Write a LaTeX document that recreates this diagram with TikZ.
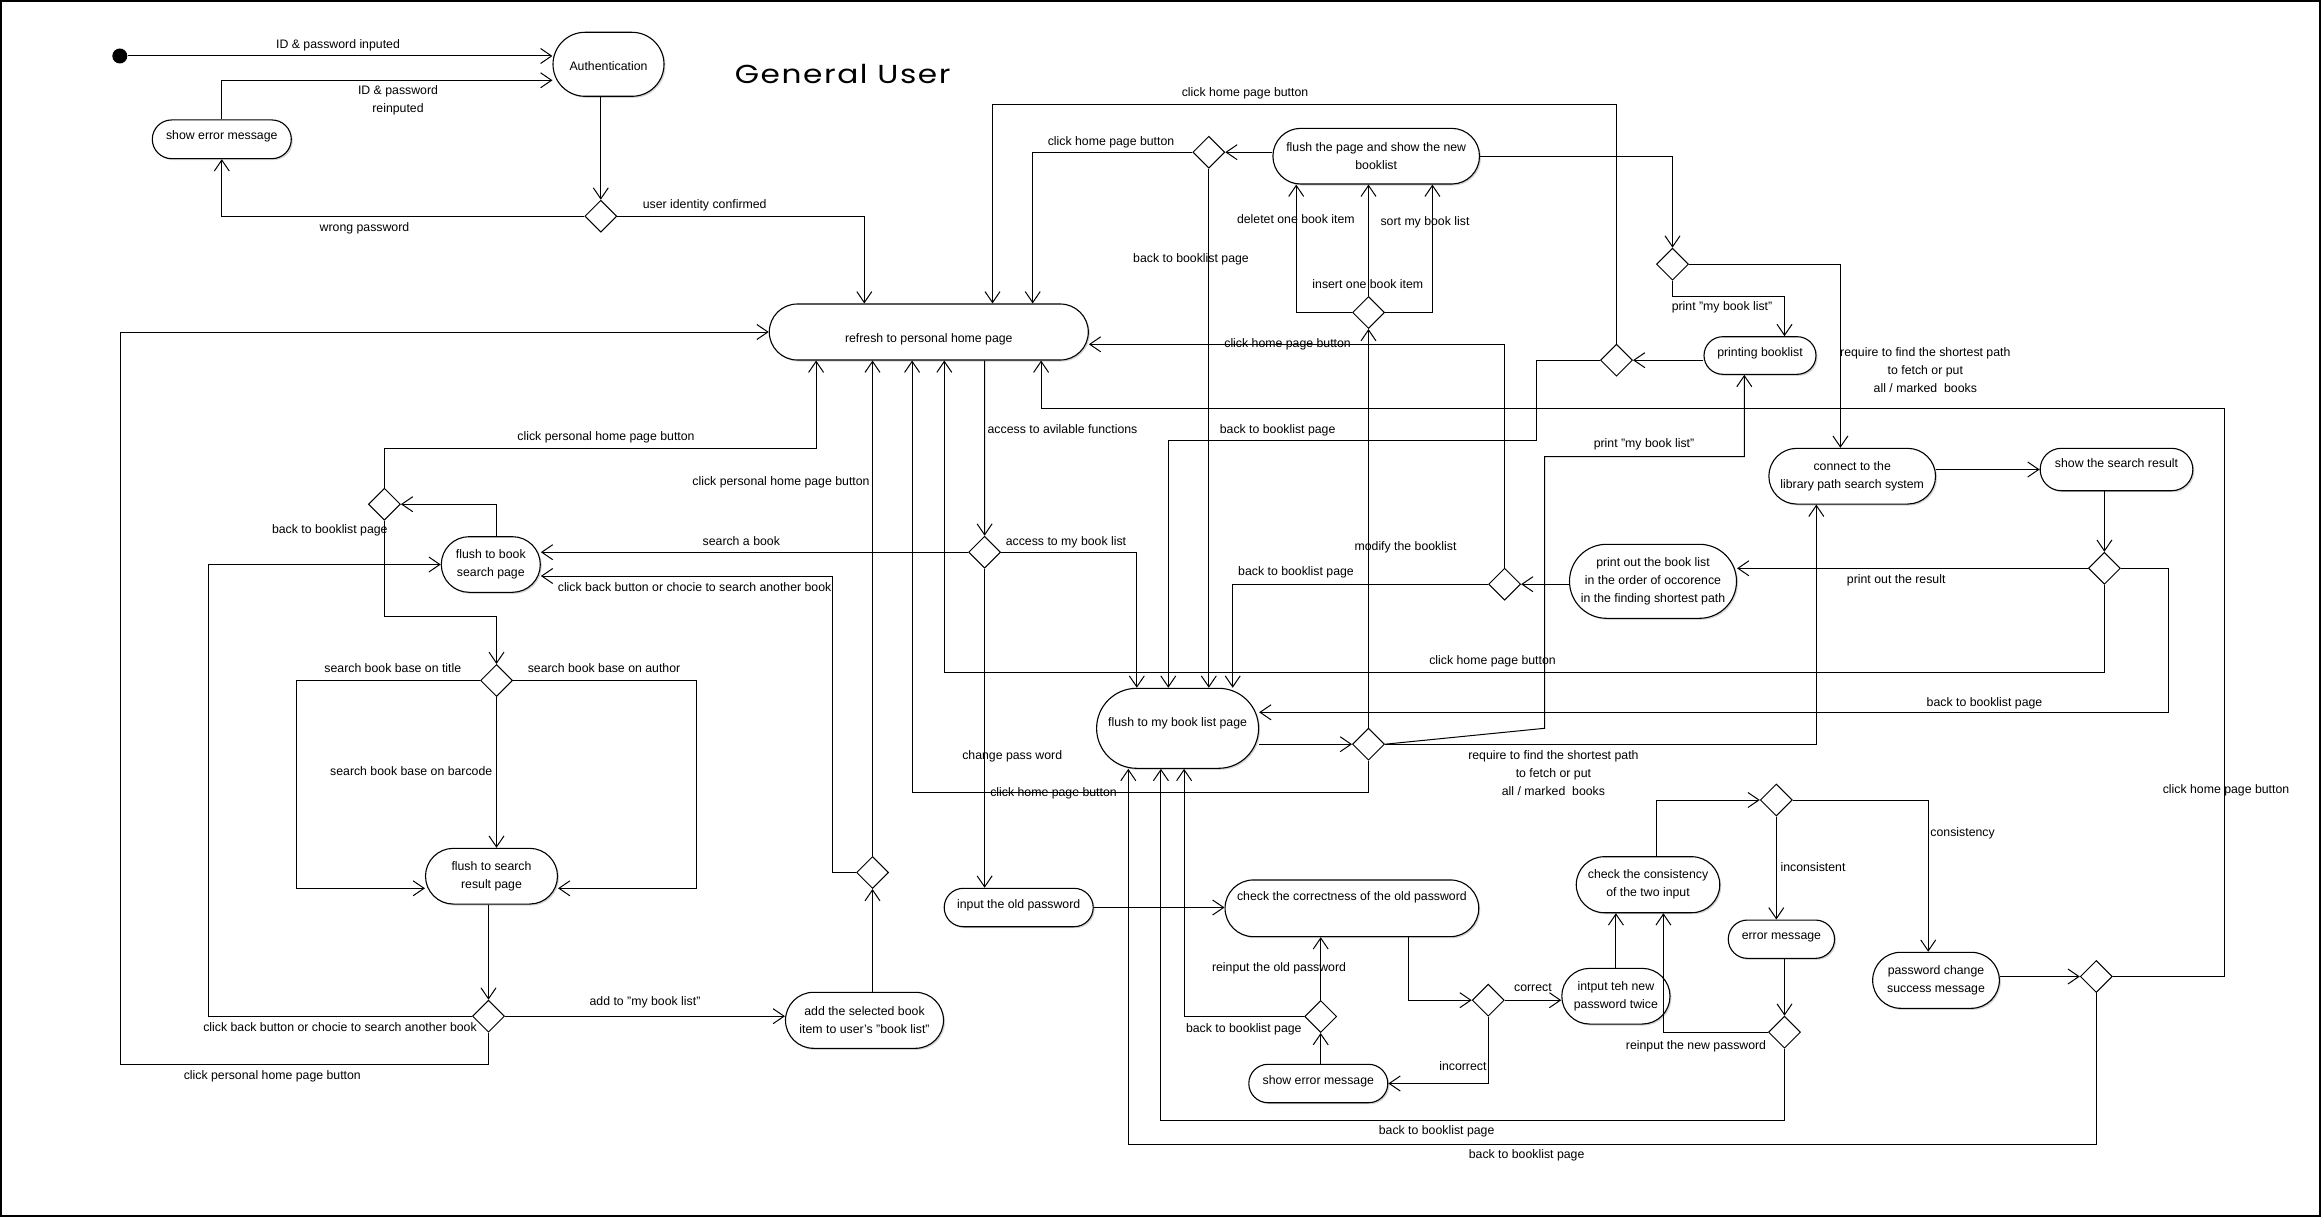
\documentclass[tikz,border=0pt]{standalone}
\usepackage{fontspec}
\setmainfont{Liberation Sans}
\newfontfamily\titlefont{Poppins}[FakeStretch=1.2, LetterSpace=6]
\usetikzlibrary{arrows.meta,shapes.geometric,shadows}

\begin{document}
\begin{tikzpicture}[x=1pt, y=-1pt,
  every node/.style={font=\fontsize{12.3}{18.2}\selectfont},
  act/.style 2 args={draw, fill=white, line width=1.1pt, align=center, inner sep=0pt,
    minimum width=#1pt, minimum height=#2pt, rounded corners=#2pt/2,
    drop shadow={shadow xshift=1.5pt, shadow yshift=-1.5pt, opacity=0.35}},
  one/.style={text height=9pt, text depth=7.8pt},
  dec/.style={draw, fill=white, diamond, line width=1pt, inner sep=0pt,
    minimum width=32pt, minimum height=32pt},
  start/.style={circle, fill=black, inner sep=0pt, minimum size=15pt},
  flow/.style={line width=1pt, -{Straight Barb[length=11pt, width=15pt]}},
  lbl/.style={inner sep=0pt, text height=9pt, text depth=2.6pt},
  lbls/.style={inner sep=0pt, align=center},
]
\useasboundingbox (0,0) rectangle (2321,1217);
\draw[line width=2pt] (1,1) rectangle (2320,1216);

% title
\node[font=\titlefont\fontsize{26}{30}\selectfont] (title) at (842.7,74) {General User};

% activities and decisions
\node[start] (init) at (119.8,56) {};
\node[act={111}{64}, text height=14.2pt, text depth=2.6pt] (auth) at (608.5,64.3) {Authentication};
\node[act={139}{38.7}, one] (err1) at (221.8,139.3) {show error message};
\node[dec] (d1) at (600.8,216.2) {};
\node[act={319}{56}, text height=22.8pt, text depth=2.6pt] (home) at (928.8,332) {refresh to personal home page};
\node[dec] (dfp) at (1208.8,152.2) {};
\node[act={206.6}{55.7}] (fp) at (1376.2,156.2) {flush the page and show the new\\booklist};
\node[dec] (dmod) at (1368.5,312.5) {};
\node[dec] (dprint) at (1672.5,264.2) {};
\node[dec] (dpb) at (1616.5,360.2) {};
\node[act={112}{37.6}, one] (pb) at (1760,355.5) {printing booklist};
\node[act={166.7}{55.7}] (conn) at (1852.2,476.2) {connect to the\\library path search system};
\node[act={152.7}{42.4}, text height=9pt, text depth=12.6pt] (sres) at (2116.5,469.5) {show the search result};
\node[dec] (dres) at (2104.4,568.3) {};
\node[act={167}{74}] (pout) at (1653,581.3) {print out the book list\\in the order of occorence\\in the finding shortest path};
\node[dec] (dpout) at (1504.6,584.2) {};
\node[dec] (dacc) at (984.6,552.2) {};
\node[act={99}{55.6}] (fbs) at (490.8,564.5) {flush to book\\search page};
\node[dec] (dbs) at (384.4,504.2) {};
\node[dec] (dsearch) at (496.5,680.5) {};
\node[act={132}{55.7}] (fsr) at (491.5,876.2) {flush to search\\result page};
\node[dec] (dsr) at (488.5,1016.2) {};
\node[act={158}{56}] (add) at (864.5,1020.3) {add the selected book\\item to user's "book list"};
\node[dec] (dadd) at (872.5,872.5) {};
\node[act={162}{80}, text height=9pt, text depth=13.4pt] (fbl) at (1177.6,728.3) {flush to my book list page};
\node[dec] (dfbl) at (1368.5,744.2) {};
\node[act={149}{38.4}, one] (iold) at (1018.7,907.5) {input the old password};
\node[act={253.7}{56.7}, text height=9pt, text depth=25.4pt] (chk) at (1351.9,908.3) {check the correctness of the old password};
\node[dec] (dchk) at (1488.2,1000.2) {};
\node[act={139}{38.4}, one] (err2) at (1318.3,1083.5) {show error message};
\node[dec] (dold) at (1320.7,1016.5) {};
\node[act={108.2}{55.7}] (inew) at (1615.9,996.2) {intput teh new\\password twice};
\node[act={143.5}{56}] (cons) at (1648,884.7) {check the consistency\\of the two input};
\node[dec] (dcons) at (1776.3,800) {};
\node[act={106.3}{38.3}, one] (emsg) at (1781.4,939.2) {error message};
\node[dec] (dnew) at (1784.5,1032.2) {};
\node[act={126.7}{56}] (succ) at (1936,980.3) {password change\\success message};
\node[dec] (dsucc) at (2096.3,976.5) {};

% login
\draw[flow] (init) -- (init -| auth.west);
\draw[flow] (err1.north) |- (auth.west |- 0,80.3);
\draw[flow] (d1.north |- auth.south) -- (d1.north);
\draw[flow] (d1.west) -| (err1.south);
\draw[flow] (d1.east) -| (864.3,0 |- home.north);

% book search
\draw[flow] (dsr.south) |- (120.5,1064.3) |- (home.west);
\draw[flow] (dsr.west) -| (208.5,0 |- fbs.west) -- (fbs.west);
\draw[flow] (dsr.east) -- (dsr.east -| add.west);
\draw[flow] (dsr.north |- fsr.south) -- (dsr.north);
\draw[flow] (dsearch.south) -- (dsearch.south |- fsr.north);
\draw[flow] (dsearch.west) -| (296.6,888.3) -- (fsr.west |- 0,888.3);
\draw[flow] (dsearch.east) -| (696.3,888.3) -- (fsr.east |- 0,888.3);
\draw[flow] (496.3,0 |- fbs.north) |- (dbs.east);
\draw[flow] (dbs.north) |- (816.1,448.3) -- (816.1,0 |- home.south);
\draw[flow] (dbs.south) |- (dsearch.north |- 0,616) -- (dsearch.north);
\draw[flow] (984.5,0 |- home.south) -- (dacc.north);
\draw[flow] (dacc.west) -- (dacc.west -| fbs.east);
\draw[flow] (dacc.east) -| (1136.8,0 |- fbl.north);
\draw[flow] (dacc.south) -- (dacc.south |- iold.north);
\draw[flow] (dadd.south |- add.north) -- (dadd.south);
\draw[flow] (dadd.north) -- (dadd.north |- home.south);
\draw[flow] (dadd.west) -| (832.6,576) -- (fbs.east |- 0,576);

% password change
\draw[flow] (iold.east) -- (iold.east -| chk.west);
\draw[flow] (1408.7,0 |- chk.south) |- (dchk.west);
\draw[flow] (dchk.east) -- (dchk.east -| inew.west);
\draw[flow] (dchk.south) |- (err2.east);
\draw[flow] (dold.south |- err2.north) -- (dold.south);
\draw[flow] (dold.north) -- (dold.north |- chk.south);
\draw[flow] (dold.west) -| (1184.1,0 |- fbl.south);
\draw[flow] (inew.north) -- (inew.north |- cons.south);
\draw[flow] (1656.3,0 |- cons.north) |- (dcons.west);
\draw[flow] (dcons.east) -| (1928.2,0 |- succ.north);
\draw[flow] (dcons.south) -- (dcons.south |- emsg.north);
\draw[flow] (dnew.north |- emsg.south) -- (dnew.north);
\draw[flow] (dnew.west) -| (1663.4,0 |- cons.south);
\draw[flow] (dnew.south) |- (1160.9,1120) -- (1160.9,0 |- fbl.south);
\draw[flow] (dsucc.west -| succ.east) -- (dsucc.west);
\draw[flow] (dsucc.south) |- (1128.3,1144) -- (1128.3,0 |- fbl.south);
\draw[flow] (dsucc.east) -| (2224.3,408.3) -| (1041.1,0 |- home.south);

% my book list
\draw[flow] (fbl.east |- dfbl.west) -- (dfbl.west);
\draw[flow] (dfbl.east) -| (1816.3,0 |- conn.south);
\draw[flow] (dfbl.east) -- (1544.6,728.3) |- (1744.3,456.7) -- (1744.3,0 |- pb.south);
\draw[flow] (dfbl.north) -- (dmod.south);
\draw[flow] (dfbl.south) |- (912.1,792.3) -- (912.1,0 |- home.south);
\draw[flow] (dmod.west) -| (1296.2,0 |- fp.south);
\draw[flow] (dmod.north) -- (dmod.north |- fp.south);
\draw[flow] (dmod.east) -| (1432.4,0 |- fp.south);
\draw[flow] (fp.west |- dfp.east) -- (dfp.east);
\draw[flow] (dfp.west) -| (1032.7,0 |- home.north);
\draw[flow] (dfp.south) -- (dfp.south |- fbl.north);
\draw[flow] (fp.east) -| (dprint.north);
\draw[flow] (dprint.south) |- (1784.5,296) -- (1784.5,0 |- pb.north);
\draw[flow] (dprint.east) -| (1840.4,0 |- conn.north);
\draw[flow] (pb.west |- dpb.east) -- (dpb.east);
\draw[flow] (dpb.north) |- (992.5,104.3) -- (992.5,0 |- home.north);
\draw[flow] (dpb.west) -| (1536.5,440.3) -| (1168.3,0 |- fbl.north);
\draw[flow] (conn.east |- sres.west) -- (sres.west);
\draw[flow] (dres.north |- sres.south) -- (dres.north);
\draw[flow] (dres.west) -- (dres.west -| pout.east);
\draw[flow] (dres.east) -| (2168.7,712.3) -- (fbl.east |- 0,712.3);
\draw[flow] (dres.south) |- (944.3,672.3) -- (944.3,0 |- home.south);
\draw[flow] (pout.west |- dpout.east) -- (dpout.east);
\draw[flow] (dpout.north) |- (home.east |- 0,344.3);
\draw[flow] (dpout.west) -| (1232.7,0 |- fbl.north);

% guard labels
\node[lbl] (t1) at (338,45) {ID \& password inputed};
\node[lbls] (t2) at (398,100.5) {ID \& password\\reinputed};
\node[lbl] (t3) at (364.5,228.5) {wrong password};
\node[lbl] (t4) at (704.7,205) {user identity confirmed};
\node[lbl] (t5) at (1111,142) {click home page button};
\node[lbl] (t6) at (1245,93.5) {click home page button};
\node[lbl] (t7) at (1191,259.5) {back to booklist page};
\node[lbl] (t8) at (1295.8,220.5) {deletet one book item};
\node[lbl] (t9) at (1425,222.5) {sort my book list};
\node[lbl] (t10) at (1367.8,285) {insert one book item};
\node[lbl] (t11) at (1287.6,344) {click home page button};
\node[lbl] (t12) at (1722,307) {print "my book list"};
\node[lbls] (t13) at (1925.3,370) {require to find the shortest path\\to fetch or put\\all / marked\ \ books};
\node[lbl] (t14) at (606,437.5) {click personal home page button};
\node[lbl] (t15) at (781,482.5) {click personal home page button};
\node[lbl] (t16) at (1062.5,430) {access to avilable functions};
\node[lbl] (t17) at (1277.6,430) {back to booklist page};
\node[lbl] (t18) at (1644,444) {print "my book list"};
\node[lbl] (t19) at (329.8,530) {back to booklist page};
\node[lbl] (t20) at (741.3,542) {search a book};
\node[lbl] (t21) at (1066,542) {access to my book list};
\node[lbl] (t22) at (694.6,588.5) {click back button or chocie to search another book};
\node[lbl] (t23) at (1405.5,547.5) {modify the booklist};
\node[lbl] (t24) at (1296,572.5) {back to booklist page};
\node[lbl] (t25) at (1896.2,580) {print out the result};
\node[lbl] (t26) at (1492.5,661.5) {click home page button};
\node[lbl] (t27) at (392.8,669) {search book base on title};
\node[lbl] (t28) at (604,669) {search book base on author};
\node[lbl] (t29) at (1984.5,703.5) {back to booklist page};
\node[lbl] (t30) at (1012.2,756.5) {change pass word};
\node[lbls] (t31) at (1553.4,773) {require to find the shortest path\\to fetch or put\\all / marked\ \ books};
\node[lbl] (t32) at (411.2,772) {search book base on barcode};
\node[lbl] (t33) at (1053.5,793.5) {click home page button};
\node[lbl] (t34) at (2226,790.5) {click home page button};
\node[lbl] (t35) at (1962.6,833.5) {consistency};
\node[lbl] (t36) at (1813,868.5) {inconsistent};
\node[lbl] (t37) at (1279,968) {reinput the old password};
\node[lbl] (t38) at (1532.9,988.5) {correct};
\node[lbl] (t39) at (645,1002.5) {add to "my book list"};
\node[lbl] (t40) at (340,1028.5) {click back button or chocie to search another book};
\node[lbl] (t41) at (1243.8,1029.5) {back to booklist page};
\node[lbl] (t42) at (1696,1045.8) {reinput the new password};
\node[lbl] (t43) at (1462.9,1067.5) {incorrect};
\node[lbl] (t44) at (272.3,1076.5) {click personal home page button};
\node[lbl] (t45) at (1436.6,1131.5) {back to booklist page};
\node[lbl] (t46) at (1526.6,1155.5) {back to booklist page};
\end{tikzpicture}
\end{document}
